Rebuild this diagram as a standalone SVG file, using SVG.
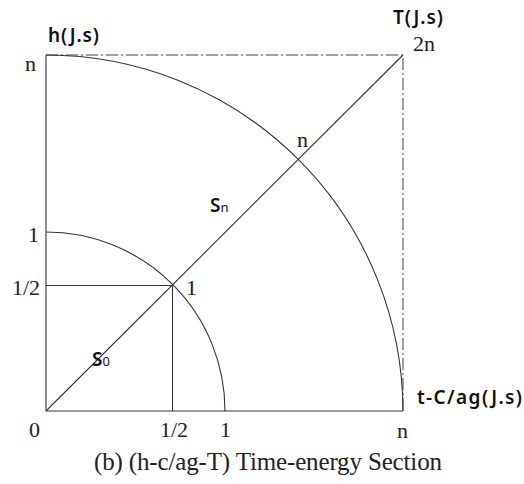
<svg xmlns="http://www.w3.org/2000/svg" width="524" height="484" viewBox="0 0 524 484">
<style>
.ln{fill:none;stroke:#333;stroke-width:1.1}
.dd{fill:none;stroke:#444;stroke-width:1;stroke-dasharray:12 3 2 3}
.sf{font-family:"Liberation Serif","DejaVu Serif",serif;font-size:22px;fill:#222}
.cap{font-family:"Liberation Serif","DejaVu Serif",serif;font-size:25px;fill:#222}
.ss{font-family:"Noto Sans","Open Sans",sans-serif;font-weight:600;font-size:19px;fill:#111}
.sub{font-family:"Noto Sans","Open Sans",sans-serif;font-weight:normal;font-size:13px;fill:#111}
</style>
<rect width="524" height="484" fill="#fff"/>
<g id="connectors">
<line class="ln" x1="46" y1="55" x2="46" y2="411"/>
<line class="ln" x1="46" y1="411" x2="403" y2="411"/>
<path class="dd" d="M46 55 H403 V411"/>
<line class="ln" x1="46" y1="411" x2="403" y2="55"/>
<path class="ln" d="M46 55 A357 357 0 0 1 403 411"/>
<path class="ln" d="M46 232 A179 179 0 0 1 225 411"/>
<line class="ln" x1="46" y1="285.5" x2="172.5" y2="285.5"/>
<line class="ln" x1="172.5" y1="285.5" x2="172.5" y2="411"/>
</g>
<g id="axis-labels">
<text class="ss" x="48" y="42" textLength="51" lengthAdjust="spacing">h(J.s)</text>
<text class="ss" x="393" y="24" textLength="50" lengthAdjust="spacing">T(J.s)</text>
<text class="ss" x="417" y="404" textLength="105" lengthAdjust="spacing">t-C/ag(J.s)</text>
<text class="ss" x="210" y="212">S<tspan class="sub">n</tspan></text>
<text class="ss" x="92" y="366">S<tspan class="sub">0</tspan></text>
</g>
<g id="tick-labels">
<text class="sf" x="25" y="71">n</text>
<text class="sf" x="413" y="51">2n</text>
<text class="sf" x="28" y="242">1</text>
<text class="sf" x="12" y="295">1/2</text>
<text class="sf" x="186" y="295">1</text>
<text class="sf" x="297" y="147">n</text>
<text class="sf" x="29" y="437">0</text>
<text class="sf" x="160" y="437">1/2</text>
<text class="sf" x="220" y="437">1</text>
<text class="sf" x="397" y="438">n</text>
</g>
<g id="caption">
<text class="cap" x="94" y="470" textLength="348" lengthAdjust="spacing">(b) (h-c/ag-T) Time-energy Section</text>
</g>
</svg>
